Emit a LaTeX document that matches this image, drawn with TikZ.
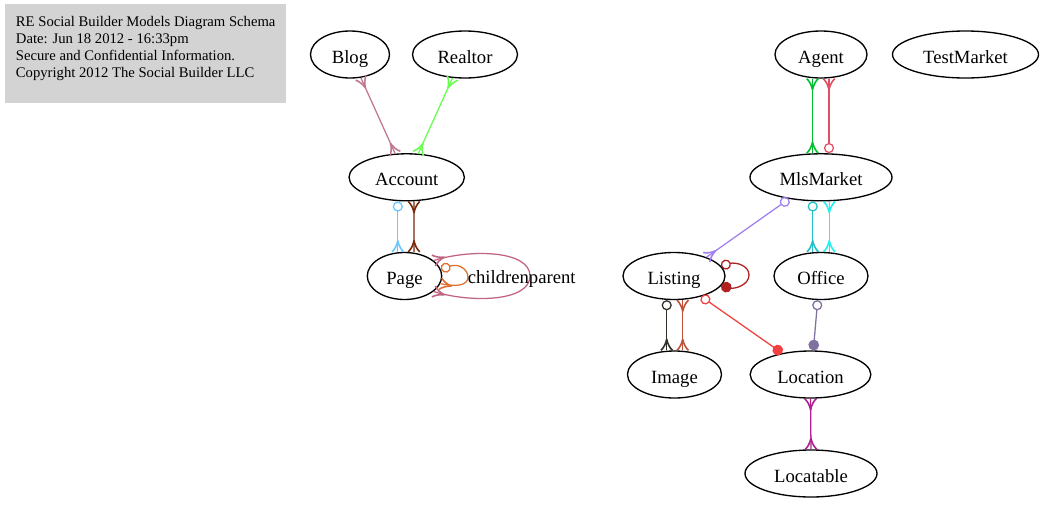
\documentclass[tikz,border=0pt]{standalone}
\usepackage{fontspec}
\setmainfont{Liberation Serif}
\usetikzlibrary{arrows.meta,shapes.geometric,calc}

\pgfdeclarearrow{
  name = Crow,
  parameters = {\the\pgfarrowlength,\the\pgfarrowwidth},
  setup code = {
    \pgfarrowssettipend{0pt}
    \pgfarrowssetlineend{0pt}
    \pgfarrowssetbackend{-\pgfarrowlength}
    \pgfarrowshullpoint{0pt}{.5\pgfarrowwidth}
    \pgfarrowshullpoint{0pt}{-.5\pgfarrowwidth}
    \pgfarrowshullpoint{-\pgfarrowlength}{0pt}
    \pgfarrowssavethe\pgfarrowlength
    \pgfarrowssavethe\pgfarrowwidth
  },
  drawing code = {
    \pgfsetdash{}{0pt}
    \pgfsetlinewidth{1.2pt}
    \pgfsetroundjoin
    \pgfpathmoveto{\pgfqpoint{0pt}{.5\pgfarrowwidth}}
    \pgfpathcurveto{\pgfqpoint{-.25\pgfarrowlength}{.25\pgfarrowwidth}}
      {\pgfqpoint{-.6\pgfarrowlength}{.08\pgfarrowwidth}}
      {\pgfqpoint{-\pgfarrowlength}{0pt}}
    \pgfpathcurveto{\pgfqpoint{-.6\pgfarrowlength}{-.08\pgfarrowwidth}}
      {\pgfqpoint{-.25\pgfarrowlength}{-.25\pgfarrowwidth}}
      {\pgfqpoint{0pt}{-.5\pgfarrowwidth}}
    \pgfusepathqstroke
  },
  defaults = {length = 8pt, width = 8pt}
}

\definecolor{hdrgray}{HTML}{D3D3D3}
\definecolor{cBlog}{HTML}{C07890}
\definecolor{cRealtor}{HTML}{66FF4D}
\definecolor{cBlue}{HTML}{66C8FF}
\definecolor{cBrown}{HTML}{782808}
\definecolor{cPink}{HTML}{C06480}
\definecolor{cOrange}{HTML}{E07030}
\definecolor{cAgentG}{HTML}{00C030}
\definecolor{cAgentR}{HTML}{E05064}
\definecolor{cPurple}{HTML}{A080F0}
\definecolor{cTeal}{HTML}{20C0C8}
\definecolor{cCyan}{HTML}{20F0F0}
\definecolor{cLoop}{HTML}{B02020}
\definecolor{cDark}{HTML}{303028}
\definecolor{cBrRed}{HTML}{C05038}
\definecolor{cRed}{HTML}{F04040}
\definecolor{cGrayP}{HTML}{8070A0}
\definecolor{cMagenta}{HTML}{B02090}

\tikzset{
  crw/.tip={Crow[length=8.3pt,width=8.6pt]},
  odot/.tip={Circle[open,length=7.6pt]},
  fdot/.tip={Circle[length=8pt]},
}

\begin{document}
\begin{tikzpicture}[x=0.75pt,y=-0.75pt,
  ent/.style={ellipse, draw=black, line width=1pt, inner sep=0pt,
    minimum height=35.25pt, text height=15.8pt, text depth=3pt,
    font=\fontsize{14}{16}\selectfont},
  conn/.style={line width=0.95pt},
  lbl/.style={inner sep=0pt, font=\fontsize{14}{16}\selectfont}]
\useasboundingbox (0,0) rectangle (1043,504);

% header
\node[fill=hdrgray, minimum width=210.75pt, minimum height=74.25pt, inner sep=0pt,
  anchor=north west] (hdrbox) at (5,3.5) {};
\node[anchor=base west, inner sep=0pt, font=\fontsize{11}{12.9}\selectfont] (hdrtext) at (15.7,26)
  {\begin{tabular}[t]{@{}l@{}}RE Social Builder Models Diagram Schema\\
   Date: Jun 18 2012 - 16:33pm\\
   Secure and Confidential Information.\\
   Copyright 2012 The Social Builder LLC\end{tabular}};

% entities
\node[ent, minimum width=59.25pt] (blog) at (350,54.5) {Blog};
\node[ent, minimum width=78.75pt] (realtor) at (465,54.5) {Realtor};
\node[ent, minimum width=69pt] (agent) at (821,54.5) {Agent};
\node[ent, minimum width=109.5pt] (testmarket) at (965.5,54.5) {TestMarket};
\node[ent, minimum width=86.5pt] (account) at (406.7,177.3) {Account};
\node[ent, minimum width=106.5pt] (mlsmarket) at (821,177.3) {MlsMarket};
\node[ent, minimum width=55.8pt] (page) at (404.5,276) {Page};
\node[ent, minimum width=76.5pt] (listing) at (674,276) {Listing};
\node[ent, minimum width=70.5pt] (office) at (821,276) {Office};
\node[ent, minimum width=70.5pt] (image) at (674.5,374.5) {Image};
\node[ent, minimum width=90.5pt] (location) at (810.5,374.5) {Location};
\node[ent, minimum width=99pt] (locatable) at (811,473.5) {Locatable};

% connectors
\draw[conn, cBlog, {crw}-{crw}] (blog.-65.8) -- (account.116.4);
\draw[conn, cRealtor, {crw}-{crw}] (realtor.242.2) -- (account.64.3);

\draw[conn, cBlue, {odot}-{crw}] ($(account.south)+(-8.9,0)$) -- ($(page.north)+(-6.7,0)$);
\draw[conn, cBrown, {crw}-{crw}] ($(account.south)+(7.3,0)$) -- ($(page.north)+(9.5,0)$);

\draw[conn, cPink, {crw}-{crw}] (page.28) .. controls (470,249) and (530,250) .. (530,276)
  .. controls (530,302) and (470,303) .. (page.-28);
\draw[conn, cOrange, {odot}-{crw}] (page.10) .. controls (458,263) and (468,269) .. (468,277)
  .. controls (468,286) and (455,287) .. (page.-12);
\node[lbl, anchor=base] (plabel) at (521.7,283.5) {childrenparent};

\draw[conn, cAgentG, {crw}-{crw}] ($(agent.south)+(-8.5,0)$) -- ($(mlsmarket.north)+(-8.5,0)$);
\draw[conn, cAgentR, {crw}-{odot}] ($(agent.south)+(8,0)$) -- ($(mlsmarket.north)+(8,0)$);

\draw[conn, cPurple, {odot}-{crw}] (mlsmarket.214.4) -- (listing.30.6);

\draw[conn, cTeal, {odot}-{crw}] ($(mlsmarket.south)+(-8.3,0)$) -- ($(office.north)+(-8.3,0)$);
\draw[conn, cCyan, {crw}-{crw}] ($(mlsmarket.south)+(8.3,0)$) -- ($(office.north)+(8.3,0)$);

\draw[conn, cLoop, {odot}-{fdot}] (listing.12) .. controls (735,262) and (749,265) .. (749,275)
  .. controls (749,285) and (735,289) .. (listing.-12);

\draw[conn, cDark, {odot}-{crw}] ($(listing.south)+(-7.3,0)$) -- ($(image.north)+(-7.8,0)$);
\draw[conn, cBrRed, {crw}-{crw}] ($(listing.south)+(8.7,0)$) -- ($(image.north)+(8.2,0)$);

\draw[conn, cRed, {odot}-{fdot}] (listing.-37.1) -- (location.143);
\draw[conn, cGrayP, {odot}-{fdot}] ($(office.south)+(-3.3,0)$) -- ($(location.north)+(2.8,0)$);

\draw[conn, cMagenta, {crw}-{crw}] (location.south) -- (locatable.north);
\end{tikzpicture}
\end{document}
